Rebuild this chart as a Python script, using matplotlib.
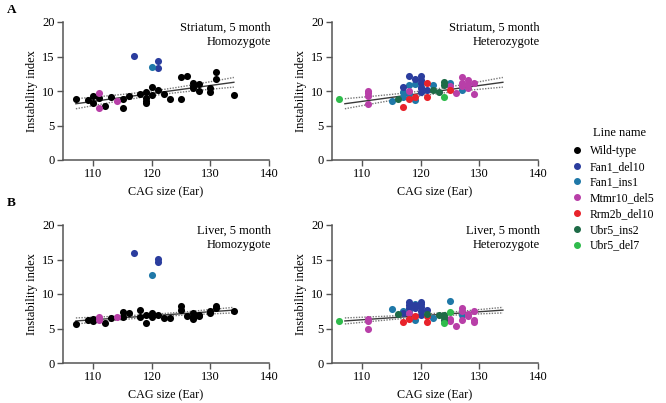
import numpy as np
import matplotlib.pyplot as plt
from matplotlib.lines import Line2D

plt.rcParams['font.family'] = ['Liberation Serif', 'DejaVu Serif']

# line names and colours (legend order)
line_names = ['Wild-type', 'Fan1_del10', 'Fan1_ins1', 'Mtmr10_del5', 'Rrm2b_del10', 'Ubr5_ins2', 'Ubr5_del7']
line_colors = ['#000000', '#2b3d9e', '#1f78a8', '#b83fa8', '#e8232b', '#1e6b47', '#2fbb4c']

# ---- Striatum, homozygote ----
st_wt_x = [107, 109, 110, 110, 111, 112, 113, 115, 115, 116, 118, 119, 119, 119, 119, 120, 120,
           121, 122, 123, 125, 125, 126, 127, 127, 127, 128, 128, 130, 130, 131, 131, 134]
st_wt_y = [8.9, 8.7, 9.3, 8.2, 9.0, 7.8, 9.2, 8.9, 7.5, 9.3, 9.6, 9.9, 9.0, 8.6, 8.3, 10.6, 9.4,
           10.2, 9.6, 8.9, 12.1, 8.9, 12.2, 11.1, 10.7, 10.4, 11.0, 10.0, 10.5, 9.9, 12.7, 11.8, 9.4]
st_hom_fan1del_x = [117, 121, 121]
st_hom_fan1del_y = [15.1, 14.3, 13.4]
st_hom_fan1ins_x = [120]
st_hom_fan1ins_y = [13.5]
st_hom_mtmr_x = [111, 111, 114]
st_hom_mtmr_y = [9.7, 7.6, 8.6]

# ---- Striatum, heterozygote ----
st_het_fan1del_x = [117, 118, 119, 120, 120, 120, 120, 120, 121]
st_het_fan1del_y = [10.6, 12.2, 11.7, 12.2, 11.6, 11.1, 10.5, 9.8, 10.2]
st_het_fan1ins_x = [115, 117, 117, 118, 118, 119, 119, 120, 122, 125, 127]
st_het_fan1ins_y = [8.5, 9.9, 9.2, 10.8, 9.5, 11.0, 8.7, 10.6, 10.9, 11.2, 10.1]
st_het_mtmr_x = [111, 111, 111, 111, 118, 125, 126, 127, 127, 127, 128, 128, 128, 129, 129]
st_het_mtmr_y = [10.0, 9.7, 9.3, 8.1, 10.0, 10.7, 9.7, 12.1, 11.2, 10.7, 11.6, 11.0, 10.5, 11.1, 9.5]
st_het_rrm2b_x = [117, 118, 119, 121, 121, 125]
st_het_rrm2b_y = [7.7, 8.8, 9.2, 11.1, 9.2, 10.1]
st_het_ubr5ins_x = [116, 122, 123, 124, 124]
st_het_ubr5ins_y = [8.8, 10.1, 9.9, 11.3, 10.9]
st_het_ubr5del_x = [106, 124]
st_het_ubr5del_y = [8.9, 9.2]

# ---- Liver, homozygote ----
lv_wt_x = [107, 109, 110, 110, 112, 113, 115, 115, 116, 118, 118, 119, 119, 120, 120, 121,
           122, 123, 125, 125, 126, 127, 127, 127, 128, 128, 130, 130, 131, 131, 134]
lv_wt_y = [5.7, 6.2, 6.1, 6.4, 5.8, 6.5, 7.4, 6.65, 7.3, 7.7, 6.65, 6.9, 5.8, 7.3, 6.65, 6.9,
           6.55, 6.55, 8.3, 7.7, 6.75, 7.3, 6.65, 6.35, 7.0, 6.75, 7.6, 7.2, 8.2, 8.0, 7.6]
lv_hom_fan1del_x = [117, 121, 121]
lv_hom_fan1del_y = [15.9, 15.1, 14.6]
lv_hom_fan1ins_x = [120]
lv_hom_fan1ins_y = [12.8]
lv_hom_mtmr_x = [111, 111, 114]
lv_hom_mtmr_y = [6.6, 6.3, 6.6]

# ---- Liver, heterozygote ----
lv_het_fan1del_x = [117, 118, 118, 118, 119, 119, 120, 120, 120, 120, 120, 121]
lv_het_fan1del_y = [7.3, 8.8, 8.4, 8.0, 8.4, 8.0, 8.9, 8.5, 8.1, 7.6, 7.0, 7.7]
lv_het_fan1ins_x = [115, 117, 118, 119, 119, 122, 125, 127]
lv_het_fan1ins_y = [7.8, 7.6, 7.5, 8.6, 6.2, 6.5, 9.05, 7.0]
lv_het_mtmr_x = [111, 111, 111, 118, 125, 125, 126, 127, 127, 127, 128, 128, 129, 129, 129]
lv_het_mtmr_y = [6.35, 6.1, 4.9, 7.2, 6.4, 6.1, 5.3, 7.9, 7.5, 6.3, 7.1, 6.75, 7.5, 6.3, 5.9]
lv_het_rrm2b_x = [117, 118, 119, 121, 121]
lv_het_rrm2b_y = [5.9, 6.4, 6.8, 6.75, 5.9]
lv_het_ubr5ins_x = [116, 121, 123, 124, 124, 124]
lv_het_ubr5ins_y = [7.1, 7.1, 6.9, 7.0, 6.65, 6.3]
lv_het_ubr5del_x = [106, 124, 125]
lv_het_ubr5del_y = [6.1, 5.8, 7.4]


def wt_fit(x, y):
    # linear regression of wild-type with 95% confidence band
    x = np.asarray(x, float)
    y = np.asarray(y, float)
    b, a = np.polyfit(x, y, 1)
    n = len(x)
    s = np.sqrt(np.sum((y - (a + b * x)) ** 2) / (n - 2))
    xs = np.linspace(x.min(), x.max(), 100)
    se = s * np.sqrt(1 / n + (xs - x.mean()) ** 2 / np.sum((x - x.mean()) ** 2))
    yh = a + b * xs
    return xs, yh, yh - 2.04 * se, yh + 2.04 * se


def style_axes(ax, title):
    ax.set_xlim(104.8, 140)
    ax.set_ylim(0, 20)
    ax.set_xticks([110, 120, 130, 140])
    ax.set_yticks([0, 5, 10, 15, 20])
    for side in ['top', 'right']:
        ax.spines[side].set_visible(False)
    for side in ['left', 'bottom']:
        ax.spines[side].set_color('#555555')
        ax.spines[side].set_linewidth(1.1)
    ax.tick_params(direction='out', length=4, width=1, color='#555555', labelsize=9, pad=2)
    ax.set_xlabel('CAG size (Ear)', fontsize=8.75, labelpad=4)
    ax.set_ylabel('Instability index', fontsize=9, labelpad=3)
    ax.text(1.01, 1.0, title, transform=ax.transAxes, ha='right', va='top',
            fontsize=9, linespacing=1.25)


def draw_fit(ax, fit):
    xs, yh, lo, hi = fit
    ax.plot(xs, yh, color='#3a3a3a', lw=1.0, zorder=2)
    ax.plot(xs, lo, color='#777777', lw=1.0, ls=(0, (1, 1)), zorder=2)
    ax.plot(xs, hi, color='#777777', lw=1.0, ls=(0, (1, 1)), zorder=2)


fig = plt.figure(figsize=(6.66, 4.03), dpi=100)
W, H = 666, 403
pos = {'tl': (63, 22), 'tr': (332, 22), 'bl': (63, 225), 'br': (332, 225)}
aw, ah = 206, 138


def make_ax(key):
    x0, y0 = pos[key]
    return fig.add_axes([x0 / W, 1 - (y0 + ah) / H, aw / W, ah / H])


ms = 26
st_fit = wt_fit(st_wt_x, st_wt_y)
lv_fit = wt_fit(lv_wt_x, lv_wt_y)

# A, striatum homozygote
ax = make_ax('tl')
draw_fit(ax, st_fit)
ax.scatter(st_wt_x, st_wt_y, s=ms, c=line_colors[0], lw=0, zorder=3)
ax.scatter(st_hom_fan1del_x, st_hom_fan1del_y, s=ms, c=line_colors[1], lw=0, zorder=3)
ax.scatter(st_hom_fan1ins_x, st_hom_fan1ins_y, s=ms, c=line_colors[2], lw=0, zorder=3)
ax.scatter(st_hom_mtmr_x, st_hom_mtmr_y, s=ms, c=line_colors[3], lw=0, zorder=3)
style_axes(ax, 'Striatum, 5 month\nHomozygote')

# A, striatum heterozygote
ax = make_ax('tr')
draw_fit(ax, st_fit)
ax.scatter(st_het_fan1ins_x, st_het_fan1ins_y, s=ms, c=line_colors[2], lw=0, zorder=3)
ax.scatter(st_het_fan1del_x, st_het_fan1del_y, s=ms, c=line_colors[1], lw=0, zorder=3)
ax.scatter(st_het_mtmr_x, st_het_mtmr_y, s=ms, c=line_colors[3], lw=0, zorder=3)
ax.scatter(st_het_rrm2b_x, st_het_rrm2b_y, s=ms, c=line_colors[4], lw=0, zorder=3)
ax.scatter(st_het_ubr5ins_x, st_het_ubr5ins_y, s=ms, c=line_colors[5], lw=0, zorder=3)
ax.scatter(st_het_ubr5del_x, st_het_ubr5del_y, s=ms, c=line_colors[6], lw=0, zorder=3)
style_axes(ax, 'Striatum, 5 month\nHeterozygote')

# B, liver homozygote
ax = make_ax('bl')
draw_fit(ax, lv_fit)
ax.scatter(lv_wt_x, lv_wt_y, s=ms, c=line_colors[0], lw=0, zorder=3)
ax.scatter(lv_hom_fan1del_x, lv_hom_fan1del_y, s=ms, c=line_colors[1], lw=0, zorder=3)
ax.scatter(lv_hom_fan1ins_x, lv_hom_fan1ins_y, s=ms, c=line_colors[2], lw=0, zorder=3)
ax.scatter(lv_hom_mtmr_x, lv_hom_mtmr_y, s=ms, c=line_colors[3], lw=0, zorder=3)
style_axes(ax, 'Liver, 5 month\nHomozygote')

# B, liver heterozygote
ax = make_ax('br')
draw_fit(ax, lv_fit)
ax.scatter(lv_het_fan1ins_x, lv_het_fan1ins_y, s=ms, c=line_colors[2], lw=0, zorder=3)
ax.scatter(lv_het_fan1del_x, lv_het_fan1del_y, s=ms, c=line_colors[1], lw=0, zorder=3)
ax.scatter(lv_het_mtmr_x, lv_het_mtmr_y, s=ms, c=line_colors[3], lw=0, zorder=3)
ax.scatter(lv_het_rrm2b_x, lv_het_rrm2b_y, s=ms, c=line_colors[4], lw=0, zorder=3)
ax.scatter(lv_het_ubr5ins_x, lv_het_ubr5ins_y, s=ms, c=line_colors[5], lw=0, zorder=3)
ax.scatter(lv_het_ubr5del_x, lv_het_ubr5del_y, s=ms, c=line_colors[6], lw=0, zorder=3)
style_axes(ax, 'Liver, 5 month\nHeterozygote')

# panel letters
fig.text(7 / W, 1 - 10 / H, 'A', fontsize=9.5, fontweight='bold', va='center')
fig.text(7 / W, 1 - 203 / H, 'B', fontsize=9.5, fontweight='bold', va='center')

# legend
fig.text(593 / W, 1 - 133 / H, 'Line name', fontsize=9, va='center', ha='left')
handles = [Line2D([], [], marker='o', ls='', color=c, markersize=4) for c in line_colors]
fig.legend(handles, line_names, loc='upper left', bbox_to_anchor=(571 / W, 1 - 145 / H),
           frameon=False, fontsize=8.5, handlelength=1.0, handletextpad=0.6,
           labelspacing=0.32, borderpad=0, borderaxespad=0)

fig.savefig('out.png', dpi=100)
